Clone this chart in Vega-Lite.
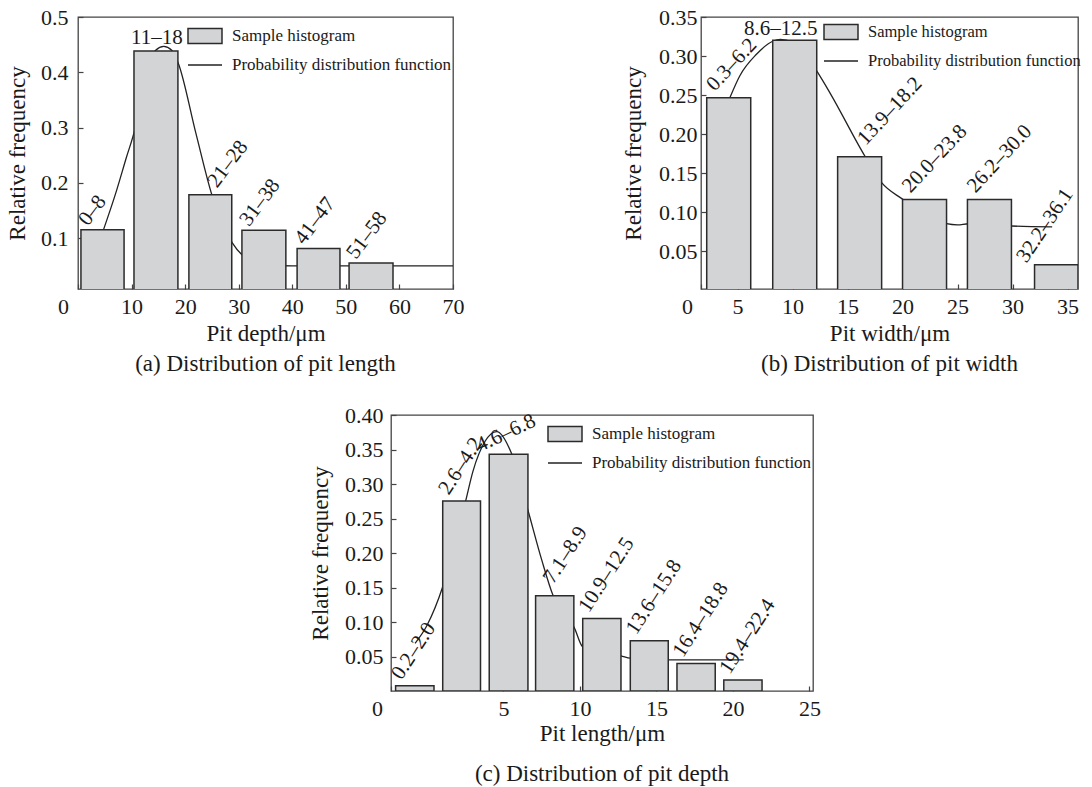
{
  "$schema": "https://vega.github.io/schema/vega-lite/v6.json",
  "background": "white",
  "padding": {"left": 5, "top": 5, "right": 0, "bottom": 0},
  "datasets": {
    "barsA": [
      {"x0": 0.55, "x1": 8.6, "freq": 0.115, "label": "0–8"},
      {"x0": 10.45, "x1": 18.65, "freq": 0.4386, "label": "11–18"},
      {"x0": 20.7, "x1": 28.7, "freq": 0.1787, "label": "21–28"},
      {"x0": 30.6, "x1": 38.8, "freq": 0.1144, "label": "31–38"},
      {"x0": 40.9, "x1": 48.9, "freq": 0.0812, "label": "41–47"},
      {"x0": 50.6, "x1": 58.8, "freq": 0.0549, "label": "51–58"}
    ],
    "pdfA": [
      {"x": 4.75, "y": 0.115}, {"x": 7, "y": 0.18}, {"x": 9, "y": 0.245}, {"x": 10.7, "y": 0.3},
      {"x": 12.5, "y": 0.39}, {"x": 14.5, "y": 0.44}, {"x": 16, "y": 0.447}, {"x": 17.5, "y": 0.44},
      {"x": 18.7, "y": 0.417}, {"x": 22, "y": 0.29}, {"x": 25, "y": 0.178}, {"x": 28.8, "y": 0.0915},
      {"x": 30.6, "y": 0.07}, {"x": 33, "y": 0.056}, {"x": 36, "y": 0.051}, {"x": 40, "y": 0.05}, {"x": 70, "y": 0.05}
    ],
    "barsB": [
      {"x0": 2.2, "x1": 6.2, "freq": 0.2466, "label": "0.3–6.2"},
      {"x0": 8.2, "x1": 12.2, "freq": 0.3203, "label": "8.6–12.5"},
      {"x0": 14.1, "x1": 18.1, "freq": 0.1713, "label": "13.9–18.2"},
      {"x0": 20.0, "x1": 24.0, "freq": 0.1164, "label": "20.0–23.8"},
      {"x0": 25.9, "x1": 29.9, "freq": 0.1164, "label": "26.2–30.0"},
      {"x0": 32.0, "x1": 35.95, "freq": 0.0331, "label": "32.2–36.1"}
    ],
    "pdfB": [
      {"x": 4.3, "y": 0.2466}, {"x": 5.2, "y": 0.2746}, {"x": 6.7, "y": 0.302}, {"x": 8.2, "y": 0.319},
      {"x": 8.9, "y": 0.3215}, {"x": 10, "y": 0.318}, {"x": 11, "y": 0.306}, {"x": 12.2, "y": 0.281},
      {"x": 13.4, "y": 0.253}, {"x": 16.6, "y": 0.1715}, {"x": 18.1, "y": 0.138}, {"x": 20, "y": 0.117},
      {"x": 22, "y": 0.098}, {"x": 24, "y": 0.0855}, {"x": 25, "y": 0.084}, {"x": 26, "y": 0.0855},
      {"x": 28, "y": 0.0845}, {"x": 29.9, "y": 0.0826}, {"x": 33.6, "y": 0.0815}
    ],
    "barsC": [
      {"x0": -2.05, "x1": 0.46, "freq": 0.0075, "label": "0.2–2.0"},
      {"x0": 1.03, "x1": 3.5, "freq": 0.2755, "label": "2.6–4.2"},
      {"x0": 4.07, "x1": 6.6, "freq": 0.343, "label": "4.6–6.8"},
      {"x0": 7.1, "x1": 9.6, "freq": 0.138, "label": "7.1–8.9"},
      {"x0": 10.18, "x1": 12.68, "freq": 0.105, "label": "10.9–12.5"},
      {"x0": 13.29, "x1": 15.77, "freq": 0.073, "label": "13.6–15.8"},
      {"x0": 16.34, "x1": 18.84, "freq": 0.04, "label": "16.4–18.8"},
      {"x0": 19.4, "x1": 21.9, "freq": 0.016, "label": "19.4–22.4"}
    ],
    "pdfC": [
      {"x": -0.78, "y": 0.069}, {"x": 0, "y": 0.095}, {"x": 1.03, "y": 0.151}, {"x": 2, "y": 0.228},
      {"x": 2.53, "y": 0.2755}, {"x": 3, "y": 0.318}, {"x": 3.8, "y": 0.362}, {"x": 4.56, "y": 0.376},
      {"x": 5.55, "y": 0.343}, {"x": 6.6, "y": 0.262}, {"x": 7.5, "y": 0.19}, {"x": 8.25, "y": 0.138},
      {"x": 9, "y": 0.108}, {"x": 9.6, "y": 0.093}, {"x": 10.18, "y": 0.064}, {"x": 11.5, "y": 0.055},
      {"x": 12.68, "y": 0.051}, {"x": 13.29, "y": 0.0476}, {"x": 15.77, "y": 0.045}, {"x": 20.7, "y": 0.045}
    ]
  },
  "config": {
    "font": "Liberation Serif",
    "view": {"stroke": "#444444", "strokeWidth": 1.3},
    "axis": {
      "grid": false, "domain": false, "tickSize": -5, "tickColor": "#444444", "tickWidth": 1.2,
      "labelFont": "Liberation Serif", "labelFontSize": 22, "labelColor": "#1a1a1a",
      "titleFont": "Liberation Serif", "titleFontSize": 23, "titleFontWeight": "normal", "titleColor": "#1a1a1a",
      "labelFlush": false, "labelOverlap": false
    },
    "title": {"font": "Liberation Serif", "fontSize": 23, "fontWeight": "normal", "color": "#1a1a1a"},
    "legend": {
      "orient": "top-right", "offset": 1, "padding": 0, "rowPadding": -7,
      "labelFont": "Liberation Serif", "labelFontSize": 17, "labelColor": "#1a1a1a", "labelOffset": 9,
      "symbolSize": 1156, "labelLimit": 400, "symbolStrokeWidth": 1.5
    }
  },
  "spacing": 26,
  "resolve": {"scale": {"color": "independent"}, "legend": {"color": "independent"}},
  "vconcat": [
    {
      "spacing": 156,
      "resolve": {"scale": {"color": "independent"}, "legend": {"color": "independent"}},
      "hconcat": [
        {
          "width": 375, "height": 272,
          "title": {"text": "(a) Distribution of pit length", "orient": "bottom", "offset": 8},
          "layer": [
            {
              "data": {"name": "pdfA"},
              "mark": {"type": "line", "interpolate": "monotone", "strokeWidth": 1.3},
              "encoding": {
                "x": {"field": "x", "type": "quantitative", "scale": {"domain": [0, 70], "nice": false},
                  "axis": {"title": "Pit depth/μm", "values": [0, 10, 20, 30, 40, 50, 60, 70], "format": "d", "tickCount": 50, "labelOverlap": false,
                    "labelOffset": {"condition": {"test": "datum.value === 0", "value": -15}, "value": 0},
                    "labelPadding": 12, "titlePadding": 5}},
                "y": {"field": "y", "type": "quantitative", "scale": {"domain": [0.008, 0.5], "nice": false, "zero": false},
                  "axis": {"title": "Relative frequency", "values": [0.1, 0.2, 0.3, 0.4, 0.5], "tickCount": 50, "format": ".1f", "labelOverlap": false,
                    "labelPadding": 15, "titlePadding": 11}},
                "color": {"datum": "Probability distribution function", "type": "nominal",
                  "scale": {"domain": ["Sample histogram", "Probability distribution function"], "range": ["#2b2b2b", "#222222"]},
                  "legend": {"title": null,
                    "encode": {"symbols": {"update": {
                      "shape": {"signal": "datum.value === 'Sample histogram' ? 'M-1,-0.44H1V0.44H-1Z' : 'M-1,0H1'"},
                      "fill": {"signal": "datum.value === 'Sample histogram' ? '#d3d4d6' : 'transparent'"},
                      "strokeWidth": {"value": 1.5}, "size": {"value": 1156}, "opacity": {"value": 1}, "strokeOpacity": {"value": 1}, "fillOpacity": {"value": 1}}}}}}
              }
            },
            {
              "data": {"name": "barsA"},
              "mark": {"type": "rect", "filled": false, "fill": "#d3d4d6", "strokeWidth": 1.5, "clip": true},
              "encoding": {
                "x": {"field": "x0", "type": "quantitative"}, "x2": {"field": "x1"},
                "y": {"field": "freq", "type": "quantitative"}, "y2": {"datum": 0},
                "color": {"datum": "Sample histogram", "type": "nominal"}
              }
            },
            {
              "data": {"name": "barsA"},
              "transform": [{"filter": "datum.label !== '11–18' && datum.label !== '21–28'"}],
              "mark": {"type": "text", "align": "left", "baseline": "alphabetic", "angle": -53, "dx": 6.6, "dy": 3.8, "fontSize": 21, "color": "#1a1a1a"},
              "encoding": {"x": {"field": "x0", "type": "quantitative"}, "y": {"field": "freq", "type": "quantitative"}, "text": {"field": "label"}}
            },
            {
              "data": {"name": "barsA"},
              "transform": [{"filter": "datum.label === '21–28'"}],
              "mark": {"type": "text", "align": "left", "baseline": "alphabetic", "angle": -53, "dx": 21.6, "dy": 18.8, "fontSize": 21, "color": "#1a1a1a"},
              "encoding": {"x": {"field": "x0", "type": "quantitative"}, "y": {"field": "freq", "type": "quantitative"}, "text": {"field": "label"}}
            },
            {
              "data": {"name": "barsA"},
              "transform": [{"filter": "datum.label === '11–18'"}],
              "mark": {"type": "text", "align": "center", "baseline": "alphabetic", "dx": 23, "dy": -7, "fontSize": 21, "color": "#1a1a1a"},
              "encoding": {"x": {"field": "x0", "type": "quantitative"}, "y": {"field": "freq", "type": "quantitative"}, "text": {"field": "label"}}
            }
          ]
        },
        {
          "width": 377, "height": 272,
          "title": {"text": "(b) Distribution of pit width", "orient": "bottom", "offset": 8},
          "layer": [
            {
              "data": {"name": "pdfB"},
              "mark": {"type": "line", "interpolate": "monotone", "strokeWidth": 1.3},
              "encoding": {
                "x": {"field": "x", "type": "quantitative", "scale": {"domain": [1.68, 35.95], "nice": false, "zero": false},
                  "axis": {"title": "Pit width/μm", "values": [1.68, 5, 10, 15, 20, 25, 30, 35], "format": "d", "tickCount": 50, "labelOverlap": false,
                    "labelExpr": "datum.value < 2 ? '0' : datum.label",
                    "labelOffset": {"condition": {"test": "datum.value < 2", "value": -14}, "value": 0},
                    "labelPadding": 12, "titlePadding": 5}},
                "y": {"field": "y", "type": "quantitative", "scale": {"domain": [0.002, 0.35], "nice": false, "zero": false},
                  "axis": {"title": "Relative frequency", "values": [0.05, 0.1, 0.15, 0.2, 0.25, 0.3, 0.35], "tickCount": 50, "format": ".2f", "labelOverlap": false,
                    "labelPadding": 9, "titlePadding": 13}},
                "color": {"datum": "Probability distribution function", "type": "nominal",
                  "scale": {"domain": ["Sample histogram", "Probability distribution function"], "range": ["#2b2b2b", "#222222"]},
                  "legend": {"title": null, "labelFontSize": 16.5, "offset": -3,
                    "encode": {"symbols": {"update": {
                      "shape": {"signal": "datum.value === 'Sample histogram' ? 'M-1,-0.44H1V0.44H-1Z' : 'M-1,0H1'"},
                      "fill": {"signal": "datum.value === 'Sample histogram' ? '#d3d4d6' : 'transparent'"},
                      "strokeWidth": {"value": 1.5}, "size": {"value": 1156}, "opacity": {"value": 1}, "strokeOpacity": {"value": 1}, "fillOpacity": {"value": 1}}}}}}
              }
            },
            {
              "data": {"name": "barsB"},
              "mark": {"type": "rect", "filled": false, "fill": "#d3d4d6", "strokeWidth": 1.5, "clip": true},
              "encoding": {
                "x": {"field": "x0", "type": "quantitative"}, "x2": {"field": "x1"},
                "y": {"field": "freq", "type": "quantitative"}, "y2": {"datum": 0},
                "color": {"datum": "Sample histogram", "type": "nominal"}
              }
            },
            {
              "data": {"name": "barsB"},
              "transform": [{"filter": "datum.label !== '8.6–12.5' && datum.label !== '32.2–36.1' && datum.label !== '13.9–18.2'"}],
              "mark": {"type": "text", "align": "left", "baseline": "alphabetic", "angle": -47, "dx": 9.8, "dy": 1.8, "fontSize": 21, "color": "#1a1a1a"},
              "encoding": {"x": {"field": "x0", "type": "quantitative"}, "y": {"field": "freq", "type": "quantitative"}, "text": {"field": "label"}}
            },
            {
              "data": {"name": "barsB"},
              "transform": [{"filter": "datum.label === '13.9–18.2'"}],
              "mark": {"type": "text", "align": "left", "baseline": "alphabetic", "angle": -47, "dx": 26.9, "dy": 13.2, "fontSize": 21, "color": "#1a1a1a"},
              "encoding": {"x": {"field": "x0", "type": "quantitative"}, "y": {"field": "freq", "type": "quantitative"}, "text": {"field": "label"}}
            },
            {
              "data": {"name": "barsB"},
              "transform": [{"filter": "datum.label === '32.2–36.1'"}],
              "mark": {"type": "text", "align": "left", "baseline": "alphabetic", "angle": -56, "dx": -3.6, "dy": -7.2, "fontSize": 21, "color": "#1a1a1a"},
              "encoding": {"x": {"field": "x0", "type": "quantitative"}, "y": {"field": "freq", "type": "quantitative"}, "text": {"field": "label"}}
            },
            {
              "data": {"name": "barsB"},
              "transform": [{"filter": "datum.label === '8.6–12.5'"}],
              "mark": {"type": "text", "align": "center", "baseline": "alphabetic", "dx": 8, "dy": -5.5, "fontSize": 21, "color": "#1a1a1a"},
              "encoding": {"x": {"field": "x0", "type": "quantitative"}, "y": {"field": "freq", "type": "quantitative"}, "text": {"field": "label"}}
            }
          ]
        }
      ]
    },
    {
      "spacing": 0,
      "resolve": {"scale": {"color": "independent"}, "legend": {"color": "independent"}},
      "hconcat": [
        {
          "width": 230, "height": 10,
          "view": {"stroke": null},
          "data": {"values": []},
          "mark": "point",
          "encoding": {}
        },
        {
          "width": 422, "height": 276,
          "title": {"text": "(c) Distribution of pit depth", "orient": "bottom", "offset": 18},
          "layer": [
            {
              "data": {"name": "pdfC"},
              "mark": {"type": "line", "interpolate": "monotone", "strokeWidth": 1.3},
              "encoding": {
                "x": {"field": "x", "type": "quantitative", "scale": {"domain": [-2.35, 25.23], "nice": false, "zero": false},
                  "axis": {"title": "Pit length/μm", "values": [-2.35, 5, 10, 15, 20, 25], "format": "d", "tickCount": 50, "labelOverlap": false,
                    "labelExpr": "datum.value < 0 ? '0' : datum.label",
                    "labelOffset": {"condition": {"test": "datum.value < 0", "value": -14}, "value": 0},
                    "labelPadding": 12, "titlePadding": 3}},
                "y": {"field": "y", "type": "quantitative", "scale": {"domain": [0, 0.4], "nice": false},
                  "axis": {"title": "Relative frequency", "values": [0.05, 0.1, 0.15, 0.2, 0.25, 0.3, 0.35, 0.4], "tickCount": 50, "format": ".2f", "labelOverlap": false,
                    "labelPadding": 13, "titlePadding": 12}},
                "color": {"datum": "Probability distribution function", "type": "nominal",
                  "scale": {"domain": ["Sample histogram", "Probability distribution function"], "range": ["#2b2b2b", "#222222"]},
                  "legend": {"title": null,
                    "encode": {"symbols": {"update": {
                      "shape": {"signal": "datum.value === 'Sample histogram' ? 'M-1,-0.44H1V0.44H-1Z' : 'M-1,0H1'"},
                      "fill": {"signal": "datum.value === 'Sample histogram' ? '#d3d4d6' : 'transparent'"},
                      "strokeWidth": {"value": 1.5}, "size": {"value": 1156}, "opacity": {"value": 1}, "strokeOpacity": {"value": 1}, "fillOpacity": {"value": 1}}}}}}
              }
            },
            {
              "data": {"name": "barsC"},
              "mark": {"type": "rect", "filled": false, "fill": "#d3d4d6", "strokeWidth": 1.5, "clip": true},
              "encoding": {
                "x": {"field": "x0", "type": "quantitative"}, "x2": {"field": "x1"},
                "y": {"field": "freq", "type": "quantitative"}, "y2": {"datum": 0},
                "color": {"datum": "Sample histogram", "type": "nominal"}
              }
            },
            {
              "data": {"name": "barsC"},
              "transform": [{"filter": "datum.label !== '4.6–6.8' && datum.label !== '7.1–8.9'"}],
              "mark": {"type": "text", "align": "left", "baseline": "alphabetic", "angle": -57, "dx": 7.5, "dy": 2.3, "fontSize": 21, "color": "#1a1a1a"},
              "encoding": {"x": {"field": "x0", "type": "quantitative"}, "y": {"field": "freq", "type": "quantitative"}, "text": {"field": "label"}}
            },
            {
              "data": {"name": "barsC"},
              "transform": [{"filter": "datum.label === '7.1–8.9'"}],
              "mark": {"type": "text", "align": "left", "baseline": "alphabetic", "angle": -57, "dx": 18.8, "dy": 8.9, "fontSize": 21, "color": "#1a1a1a"},
              "encoding": {"x": {"field": "x0", "type": "quantitative"}, "y": {"field": "freq", "type": "quantitative"}, "text": {"field": "label"}}
            },
            {
              "data": {"name": "barsC"},
              "transform": [{"filter": "datum.label === '4.6–6.8'"}],
              "mark": {"type": "text", "align": "left", "baseline": "alphabetic", "angle": -25, "dx": -7.5, "dy": -6, "fontSize": 21, "color": "#1a1a1a"},
              "encoding": {"x": {"field": "x0", "type": "quantitative"}, "y": {"field": "freq", "type": "quantitative"}, "text": {"field": "label"}}
            }
          ]
        }
      ]
    }
  ]
}
